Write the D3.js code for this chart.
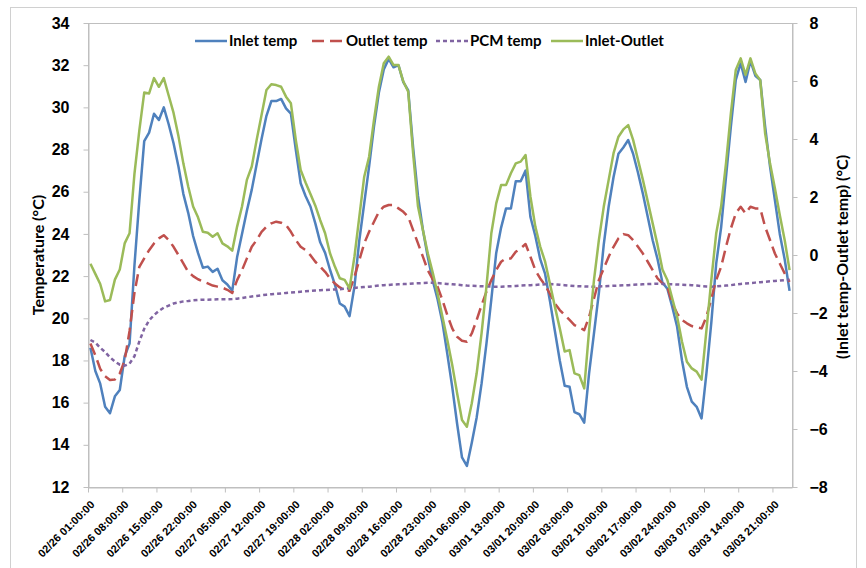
<!DOCTYPE html>
<html>
<head>
<meta charset="utf-8">
<script src="https://cdnjs.cloudflare.com/ajax/libs/d3/7.8.5/d3.min.js"></script>
<style>
  body { margin: 0; background: #fff; }
  svg { display: block; font-family: Lato, "Open Sans", sans-serif; font-weight: bold; }
</style>
</head>
<body>
<svg id="chart" width="866" height="568"></svg>
<script>
// hourly samples, 02/26 01:00 .. 03/04 00:00
var tickLabels = ['02/26 01:00:00', '02/26 08:00:00', '02/26 15:00:00', '02/26 22:00:00',
  '02/27 05:00:00', '02/27 12:00:00', '02/27 19:00:00', '02/28 02:00:00', '02/28 09:00:00',
  '02/28 16:00:00', '02/28 23:00:00', '03/01 06:00:00', '03/01 13:00:00', '03/01 20:00:00',
  '03/02 03:00:00', '03/02 10:00:00', '03/02 17:00:00', '03/02 24:00:00', '03/03 07:00:00',
  '03/03 14:00:00', '03/03 21:00:00'];

var inletTemp = [
  18.6, 17.5, 16.9, 15.8, 15.5, 16.3, 16.6, 18.2, 18.8, 22.5, 25.6, 28.4,
  28.8, 29.7, 29.4, 30.0, 29.2, 28.3, 27.2, 25.9, 25.0, 23.9, 23.1, 22.4, 22.45,
  22.2, 22.35, 21.8, 21.6, 21.3,
  22.9, 24.0, 25.1, 26.1, 27.3, 28.5, 29.6, 30.3, 30.3, 30.4, 29.95, 29.7, 28.0, 26.4, 25.8, 25.3, 24.5, 23.6,
  23.1, 22.3, 21.6, 20.7, 20.55, 20.1, 21.5, 23.7, 25.45, 27.2, 29.1, 30.7, 31.8, 32.3, 31.9, 32.0, 31.2, 30.8, 28.1, 25.8, 24.2, 22.9, 21.8,
  20.9, 19.8, 18.3, 16.75, 15.0, 13.4, 13.0, 14.1, 15.3, 16.9, 18.8, 20.9, 23.1, 24.3, 25.2, 25.2, 26.5, 26.5, 27.0, 24.8, 23.9, 22.8, 22.1, 20.8,
  19.4, 18.0, 16.8, 16.75, 15.55, 15.45, 15.05, 17.4, 19.3, 21.2, 23.5, 25.3, 26.7, 27.8, 28.1, 28.45, 27.8, 26.9, 25.9, 24.8, 23.7, 22.8, 21.7,
  21.4, 20.55, 19.6, 18.0, 16.75, 16.05, 15.8, 15.25, 17.4, 19.8, 22.6, 24.3, 26.7, 29.1, 31.3, 32.1, 31.2, 32.2, 31.5, 31.3, 29.1, 27.2, 25.6, 24.0, 22.8, 21.3
];

var outletTemp = [
  18.8, 18.25, 17.6, 17.25, 17.07, 17.1, 17.38, 18.0, 19.4, 21.2, 22.44, 22.84, 23.23, 23.55, 23.79, 23.94, 23.71, 23.39, 23.0, 22.6, 22.2, 22.0, 21.85, 21.75, 21.65,
  21.55, 21.5, 21.45, 21.35, 21.2,
  21.81, 22.28, 22.84, 23.39, 23.71, 24.1, 24.34, 24.5, 24.58, 24.53, 24.42, 24.1, 23.71, 23.39, 23.23, 22.99, 22.68, 22.45,
  22.2, 21.89, 21.65, 21.46, 21.34, 21.3, 21.97, 22.76, 23.55, 24.1, 24.58, 25.05, 25.29, 25.37, 25.37, 25.21, 25.05, 24.81, 24.18, 23.55, 22.92, 22.28, 21.85,
  21.5, 20.86, 20.15, 19.52, 19.12, 18.93, 18.89, 19.28, 19.92, 20.62, 21.26, 21.81, 22.28, 22.68, 22.84, 22.84, 23.15, 23.31, 23.52, 22.92, 22.28, 21.89, 21.57, 21.15,
  20.7, 20.39, 20.15, 19.92, 19.68, 19.57, 19.44, 20.07, 20.94, 21.81, 22.36, 22.92, 23.39, 23.79, 23.99, 23.94, 23.71, 23.39, 23.07, 22.68, 22.28, 21.89, 21.65,
  21.5, 20.7, 20.23, 19.92, 19.76, 19.63, 19.57, 19.52, 20.07, 20.94, 21.81, 22.44, 23.39, 24.26, 24.97, 25.29, 24.97, 25.29, 25.21, 25.21, 24.34, 23.71, 23.07, 22.6, 22.13, 21.73
];

var pcmTemp = [
  18.97, 18.85, 18.6, 18.4, 18.15, 17.95, 17.8, 17.75, 17.85, 18.2, 18.9, 19.5, 19.9, 20.15, 20.35,
  20.5, 20.6, 20.7, 20.75, 20.8, 20.82, 20.85, 20.87, 20.88, 20.88, 20.89, 20.9, 20.9, 20.9, 20.91,
  20.93, 20.96, 21.0, 21.03, 21.06, 21.09, 21.12, 21.14, 21.16, 21.18, 21.2, 21.22, 21.24, 21.26, 21.28, 21.3, 21.32,
  21.33, 21.34, 21.35, 21.37, 21.38, 21.4, 21.42, 21.44, 21.46, 21.48, 21.5, 21.52, 21.55, 21.57, 21.58, 21.6, 21.61, 21.62, 21.63, 21.65, 21.66, 21.67, 21.68, 21.68,
  21.67, 21.65, 21.63, 21.61, 21.59, 21.57, 21.55, 21.54, 21.53, 21.52, 21.51, 21.5, 21.5, 21.5, 21.51, 21.52, 21.53, 21.55, 21.56, 21.57, 21.58, 21.6, 21.61, 21.62,
  21.61, 21.59, 21.57, 21.55, 21.53, 21.52, 21.51, 21.5, 21.5, 21.51, 21.52, 21.53, 21.54, 21.55, 21.56, 21.57, 21.59, 21.6, 21.61, 21.62, 21.63, 21.64, 21.63,
  21.62, 21.61, 21.6, 21.59, 21.58, 21.57, 21.55, 21.53, 21.51, 21.5, 21.51, 21.53, 21.55, 21.57, 21.6, 21.63, 21.65, 21.67, 21.69, 21.71, 21.73, 21.75, 21.77, 21.79, 21.81, 21.83
];

// secondary axis
var inletMinusOutlet = [
  -0.3, -0.65, -1.0, -1.6, -1.55, -0.85, -0.5, 0.4, 0.75, 2.8, 4.3, 5.6,
  5.57, 6.1, 5.8, 6.1, 5.5, 4.9, 4.1, 3.16, 2.36, 1.67, 1.3, 0.8, 0.77,
  0.63, 0.75, 0.4, 0.3, 0.15,
  0.98, 1.67, 2.59, 3.05, 3.97, 4.83, 5.69, 5.89, 5.86, 5.8, 5.46, 5.23, 3.97, 2.93, 2.5, 2.1, 1.7, 1.2,
  0.75, 0.06, -0.4, -0.8, -0.86, -1.15, -0.06, 1.32, 2.7, 3.39, 4.66, 5.8, 6.61, 6.84, 6.55, 6.55, 5.98, 5.63, 3.5, 1.67, 0.86, 0.06, -0.6,
  -1.32, -2.13, -2.93, -3.79, -4.77, -5.69, -5.92, -5.11, -4.08, -2.7, -1.09, 0.75, 1.78, 2.41, 2.41, 2.82, 3.16, 3.22, 3.45, 2.01, 0.98, 0.29, -0.23, -1.0,
  -1.78, -2.53, -3.33, -3.28, -4.08, -4.14, -4.6, -2.59, -0.86, 0.52, 1.67, 2.59, 3.51, 4.08, 4.33, 4.48, 3.97, 3.28, 2.59, 1.84, 1.09, 0.34, -0.5,
  -0.86, -1.49, -2.13, -2.99, -3.68, -3.91, -4.02, -4.3, -2.59, -0.86, 0.75, 1.67, 3.16, 4.89, 6.38, 6.78, 6.21, 6.78, 6.26, 6.03, 4.2, 3.16, 2.3, 1.38, 0.52, -0.52
];

var seriesNames = ['Inlet temp', 'Outlet temp', 'PCM temp', 'Inlet-Outlet'];
var seriesColors = ['#4f81bd', '#c0504d', '#8064a2', '#9bbb59'];

var svg = d3.select('#chart');
var plotLeft = 88, plotRight = 792, plotTop = 23, plotBottom = 487;
var nHours = inletTemp.length;
var axisGray = '#bfbfbf';

// chart frame
svg.append('rect').attr('x', 10.5).attr('y', 7.5).attr('width', 846).attr('height', 580)
  .attr('fill', 'none').attr('stroke', '#d0d0d0');

var x = d3.scaleLinear().domain([0, nHours]).range([plotLeft, plotRight]);
var yL = d3.scaleLinear().domain([12, 34]).range([plotBottom, plotTop]);
var yR = d3.scaleLinear().domain([-8, 8]).range([plotBottom, plotTop]);

// plot area border
svg.append('rect').attr('x', plotLeft + 0.5).attr('y', plotTop + 0.5)
  .attr('width', plotRight - plotLeft).attr('height', plotBottom - plotTop)
  .attr('fill', 'none').attr('stroke', axisGray);

function styleAxis(g) {
  g.select('.domain').attr('stroke', axisGray);
  g.selectAll('.tick line').attr('stroke', axisGray);
  g.selectAll('text').attr('fill', '#000');
}

svg.append('g').attr('transform', 'translate(' + (plotLeft + 0.5) + ',0)')
  .call(d3.axisLeft(yL).tickValues(d3.range(12, 35, 2)).tickSize(5).tickSizeOuter(0).tickPadding(14))
  .call(styleAxis)
  .selectAll('text').attr('font-size', 16);

svg.append('g').attr('transform', 'translate(' + (plotRight + 0.5) + ',0)')
  .call(d3.axisRight(yR).tickValues(d3.range(-8, 9, 2)).tickSize(5).tickSizeOuter(0).tickPadding(12))
  .call(styleAxis)
  .selectAll('text').attr('font-size', 16);

var xTicks = tickLabels.map(function (d, k) { return k * 7; });
var xAxis = svg.append('g').attr('transform', 'translate(0,' + (plotBottom + 0.5) + ')')
  .call(d3.axisBottom(x).tickValues(xTicks).tickSize(5).tickSizeOuter(0)
    .tickFormat(function (d, k) { return tickLabels[k]; }))
  .call(styleAxis);
xAxis.selectAll('text')
  .attr('font-size', 11)
  .attr('text-anchor', 'end')
  .attr('dy', '0.35em')
  .attr('y', 0)
  .attr('transform', 'translate(4,15) rotate(-45)');

// axis titles
svg.append('text').attr('transform', 'translate(44,' + ((plotTop + plotBottom) / 2) + ') rotate(-90)')
  .attr('text-anchor', 'middle').attr('font-size', 16).text('Temperature (°C)');
svg.append('text').attr('transform', 'translate(842,' + ((plotTop + plotBottom) / 2 + 2) + ') rotate(-90)')
  .attr('text-anchor', 'middle').attr('dy', '0.35em').attr('font-size', 16)
  .text('(Inlet temp-Outlet temp) (°C)');

var lineL = d3.line().x(function (d, i) { return x(i + 0.5); }).y(function (d) { return yL(d); });
var lineR = d3.line().x(function (d, i) { return x(i + 0.5); }).y(function (d) { return yR(d); });
var dashes = [null, '12,6', '4,3', null];

var plotted = [
  { data: inletTemp, line: lineL },
  { data: outletTemp, line: lineL },
  { data: pcmTemp, line: lineL },
  { data: inletMinusOutlet, line: lineR }
];
plotted.forEach(function (s, k) {
  svg.append('path').datum(s.data)
    .attr('d', s.line)
    .attr('fill', 'none')
    .attr('stroke', seriesColors[k])
    .attr('stroke-width', 2.5)
    .attr('stroke-linejoin', 'round')
    .attr('stroke-dasharray', dashes[k]);
});

// legend
var legendX = [195, 312, 436, 551];
var legend = svg.append('g');
seriesNames.forEach(function (name, k) {
  legend.append('line')
    .attr('x1', legendX[k]).attr('x2', legendX[k] + 32)
    .attr('y1', 41).attr('y2', 41)
    .attr('stroke', seriesColors[k]).attr('stroke-width', 2.5)
    .attr('stroke-dasharray', dashes[k]);
  legend.append('text')
    .attr('x', legendX[k] + 34).attr('y', 41).attr('dy', '0.35em')
    .attr('font-size', 15).text(name);
});
</script>
</body>
</html>
